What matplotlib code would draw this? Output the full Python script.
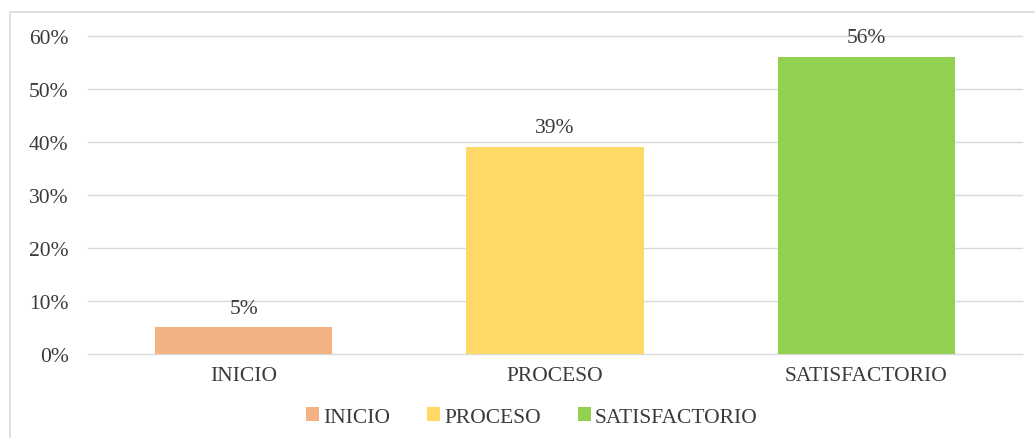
import matplotlib
matplotlib.use("Agg")
import matplotlib.pyplot as plt
from matplotlib.patches import Patch, Rectangle
from matplotlib.ticker import PercentFormatter

categories = ["INICIO", "PROCESO", "SATISFACTORIO"]
values = [0.05, 0.39, 0.56]
colors = ["#F4B183", "#FFD966", "#92D050"]
yticks = [0.0, 0.1, 0.2, 0.3, 0.4, 0.5, 0.6]

plt.rcParams['font.family'] = ['Liberation Serif', 'DejaVu Serif']
txt = "#3a3a3a"
fs = 15.5

fig = plt.figure(figsize=(10.35, 4.39), dpi=100)
fig.patch.set_facecolor("white")
# outer border (right and bottom cut off)
fig.add_artist(Rectangle((10/1035, -0.05), 1.2, 1 - 13/439 + 0.05,
                         transform=fig.transFigure, fill=False,
                         edgecolor="#D9D9D9", linewidth=1.2))

ax = fig.add_axes([88/1035, 1 - 355/439, (1022 - 88)/1035, (355 - 36.7)/439])
x = range(len(categories))
bars = ax.bar(x, values, width=0.57, color=colors, zorder=3)
ax.set_xlim(-0.5, 2.5)
ax.set_ylim(0, 0.6)
ax.set_yticks(yticks)
ax.yaxis.set_major_formatter(PercentFormatter(1.0, decimals=0))
ax.set_xticks(list(x))
ax.set_xticklabels(categories)
ax.grid(axis="y", color="#D9D9D9", linewidth=1, zorder=0)
for gl in ax.get_ygridlines():
    gl.set_clip_on(False)
for s in ["top", "right", "left", "bottom"]:
    ax.spines[s].set_visible(False)
ax.tick_params(axis="y", length=0, pad=14, labelsize=fs, labelcolor=txt)
ax.tick_params(axis="x", length=0, pad=9, labelsize=fs, labelcolor=txt)

for b, v in zip(bars, values):
    ax.annotate(f"{round(v*100)}%", (b.get_x() + b.get_width()/2, v),
                xytext=(0, 7), textcoords="offset points",
                ha="center", va="bottom", fontsize=fs, color=txt)

handles = [Patch(facecolor=c, label=l) for c, l in zip(colors, categories)]
fig.legend(handles=handles, loc="center", bbox_to_anchor=(532/1035, 1 - 418/439),
           ncol=3, frameon=False, fontsize=fs, handlelength=0.6, handleheight=0.6,
           handletextpad=0.2, columnspacing=1.7, labelcolor=txt)

fig.savefig("out.png", dpi=100, facecolor="white")
